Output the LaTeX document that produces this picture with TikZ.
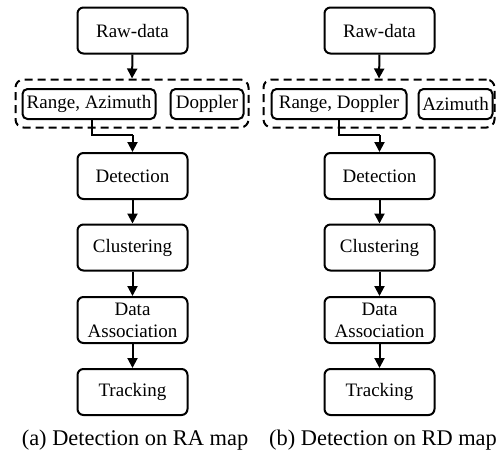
\documentclass[tikz,border=0pt]{standalone}
\usepackage{fontspec}
\setmainfont{Liberation Serif}
\newfontfamily\tnr{Liberation Serif}
\usetikzlibrary{arrows.meta}
\begin{document}
\begin{tikzpicture}[x=1pt,y=-1pt,
  stage/.style={draw,line width=2pt,rounded corners=6pt,minimum width=110pt,minimum height=46pt,inner sep=0pt,align=center,font=\tnr\fontsize{19}{23}\selectfont},
  sub/.style={draw,line width=2pt,rounded corners=5pt,minimum height=30pt,inner sep=0pt,font=\tnr\fontsize{19}{23}\selectfont},
  grp/.style={draw,line width=2pt,dash pattern=on 8pt off 5pt,rounded corners=8pt,inner sep=0pt},
  arr/.style={line width=2pt,-{Triangle[length=10pt,width=10pt]}},
  captext/.style={anchor=base,font=\tnr\fontsize{22.4}{26}\selectfont,inner sep=0pt}]
\useasboundingbox (0,0) rectangle (496,451);
% left column
\node[stage] (rawA) at (132.5,30.5) {Raw-data};
\node[grp,minimum width=233pt,minimum height=48pt] (grpA) at (132,103.5) {};
\node[sub,minimum width=133pt] (ra) at (89,104) {Range, Azimuth};
\node[sub,minimum width=73pt] (dop) at (207,104) {Doppler};
\node[stage] (detA) at (132.5,176) {Detection};
\node[stage] (cluA) at (132.5,247.5) {Clustering};
\node[stage] (daA) at (132.5,320) {Data\\[-1pt]Association};
\node[stage] (trA) at (132.5,392) {Tracking};
\coordinate (sA) at ([xshift=3pt]ra.south);
\coordinate (jA) at (132.5,135);
\draw[arr] (rawA.south) -- (grpA.north);
\draw[line width=2pt] (sA) |- (jA);
\draw[arr] (jA) -- (detA.north);
\draw[arr] (detA) -- (cluA);
\draw[arr] (cluA) -- (daA);
\draw[arr] (daA) -- (trA);
\node[captext] (capA) at (135,445) {(a) Detection on RA map};
% right column
\node[stage] (rawB) at (379.5,30.5) {Raw-data};
\node[grp,minimum width=231pt,minimum height=48pt] (grpB) at (379,103.5) {};
\node[sub,minimum width=135pt] (rd) at (339,104) {Range, Doppler};
\node[sub,minimum width=74pt] (az) at (455.5,104) {Azimuth};
\node[stage] (detB) at (379.5,176) {Detection};
\node[stage] (cluB) at (379.5,247.5) {Clustering};
\node[stage] (daB) at (379.5,320) {Data\\[-1pt]Association};
\node[stage] (trB) at (379.5,392) {Tracking};
\coordinate (jB) at (379.5,135);
\draw[arr] (rawB.south) -- (grpB.north);
\draw[line width=2pt] (rd.south) |- (jB);
\draw[arr] (jB) -- (detB.north);
\draw[arr] (detB) -- (cluB);
\draw[arr] (cluB) -- (daB);
\draw[arr] (daB) -- (trB);
\node[captext] (capB) at (383,445) {(b) Detection on RD map};
\end{tikzpicture}
\end{document}
